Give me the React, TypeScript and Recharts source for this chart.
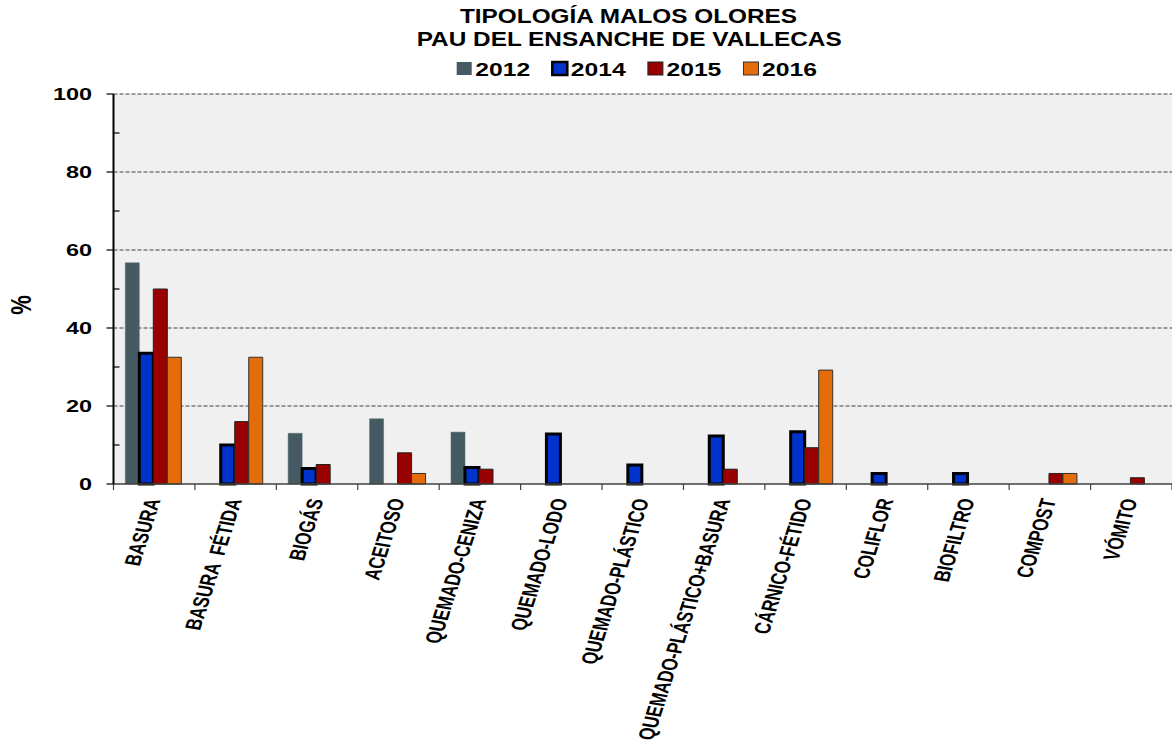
import React from 'react';
import { BarChart, Bar, XAxis, YAxis, CartesianGrid } from 'recharts';

const categories = [
  'BASURA',
  'BASURA  FÉTIDA',
  'BIOGÁS',
  'ACEITOSO',
  'QUEMADO-CENIZA',
  'QUEMADO-LODO',
  'QUEMADO-PLÁSTICO',
  'QUEMADO-PLÁSTICO+BASURA',
  'CÁRNICO-FÉTIDO',
  'COLIFLOR',
  'BIOFILTRO',
  'COMPOST',
  'VÓMITO',
];
const s2012 = [56.7, null, 13.0, 16.7, 13.3, null, null, null, null, null, null, null, null];
const s2014 = [33.5, 10.0, 4.0, null, 4.2, 12.8, 4.9, 12.3, 13.4, 2.7, 2.7, null, null];
const s2015 = [50.0, 16.0, 5.0, 8.0, 3.8, null, null, 3.8, 9.3, null, null, 2.7, 1.6];
const s2016 = [32.5, 32.5, null, 2.7, null, null, null, null, 29.2, null, null, 2.7, null];

const years = ['2012', '2014', '2015', '2016'];
const yTicks = [0, 10, 20, 30, 40, 50, 60, 70, 80, 90, 100];
const gridValues = [20, 40, 60, 80, 100];
const titleLines = ['TIPOLOGÍA MALOS OLORES', 'PAU DEL ENSANCHE DE VALLECAS'];

const seriesStyle: Record<string, { fill: string; stroke: string; strokeWidth: number }> = {
  '2012': { fill: '#455A62', stroke: '#55666c', strokeWidth: 0.5 },
  '2014': { fill: '#0033CC', stroke: '#000000', strokeWidth: 3 },
  '2015': { fill: '#990000', stroke: '#222222', strokeWidth: 1 },
  '2016': { fill: '#E46C0A', stroke: '#333333', strokeWidth: 1 },
};

const data = categories.map((name, i) => ({
  name,
  y2012: s2012[i],
  y2014: s2014[i],
  y2015: s2015[i],
  y2016: s2016[i],
}));

const FONT = 'Liberation Sans, Arial, Helvetica, sans-serif';

function XTick(props: any) {
  const { x, y, payload, index } = props;
  const half = payload && payload.offset ? payload.offset : 40.7;
  return (
    <g>
      <line x1={x - half} x2={x - half} y1={y} y2={y + 6} stroke="#404040" strokeWidth={1.2} />
      {index === categories.length - 1 ? (
        <line x1={x + half} x2={x + half} y1={y} y2={y + 6} stroke="#404040" strokeWidth={1.2} />
      ) : null}
      <text
        transform={`translate(${x + 6.5},${y + 16}) scale(1.4,1) rotate(-77)`}
        textAnchor="end"
        fontSize={16}
        fontWeight="bold"
        fontFamily={FONT}
        fill="#000"
        style={{ whiteSpace: 'pre' }}
      >
        {payload.value}
      </text>
    </g>
  );
}

function YTick(props: any) {
  const { x, y, payload } = props;
  const major = payload.value % 20 === 0;
  return (
    <g>
      {major ? (
        <line x1={x - 7} x2={x} y1={y} y2={y} stroke="#000" strokeWidth={1.2} />
      ) : (
        <line x1={x} x2={x + 6} y1={y} y2={y} stroke="#000" strokeWidth={1.2} />
      )}
      {major ? (
        <text
          transform={`translate(${x - 21.5},${y + 6}) scale(1.42,1)`}
          textAnchor="end"
          fontSize={16.5}
          fontWeight="bold"
          fontFamily={FONT}
          fill="#000"
        >
          {payload.value}
        </text>
      ) : null}
    </g>
  );
}

export default function App() {
  const legendStart = 456.7;
  const legendStep = 95.6;
  return (
    <div style={{ position: 'absolute', left: 0, top: 0, width: 1172, height: 746, background: '#fff' }}>
      <BarChart
        width={1172}
        height={746}
        data={data}
        margin={{ top: 94, right: 0, bottom: 0, left: 0 }}
        barCategoryGap="14.5%"
        barGap={0}
      >
        <CartesianGrid
          vertical={false}
          horizontalValues={gridValues}
          fill="#F0F0F0"
          fillOpacity={1}
          stroke="#404040"
          strokeDasharray="4 2"
        />
        <XAxis
          dataKey="name"
          height={262}
          interval={0}
          tickLine={false}
          tickSize={0}
          tickMargin={0}
          axisLine={{ stroke: '#404040', strokeWidth: 1.5 }}
          tick={(p: any) => <XTick {...p} />}
        />
        <YAxis
          width={113.5}
          domain={[0, 100]}
          ticks={yTicks}
          interval={0}
          tickLine={false}
          tickSize={0}
          tickMargin={0}
          axisLine={{ stroke: '#000', strokeWidth: 2 }}
          tick={(p: any) => <YTick {...p} />}
        />
        {years.map((yr) => (
          <Bar
            key={yr}
            dataKey={`y${yr}`}
            name={yr}
            fill={seriesStyle[yr].fill}
            stroke={seriesStyle[yr].stroke}
            strokeWidth={seriesStyle[yr].strokeWidth}
            isAnimationActive={false}
          />
        ))}
      </BarChart>
      <svg
        width={1172}
        height={746}
        style={{ position: 'absolute', left: 0, top: 0, pointerEvents: 'none' }}
      >
        <text x={460} y={23.3} textLength={337} lengthAdjust="spacingAndGlyphs" fontSize={20} fontWeight="bold" fontFamily={FONT} fill="#000">
          {titleLines[0]}
        </text>
        <text x={416.7} y={46} textLength={425} lengthAdjust="spacingAndGlyphs" fontSize={20} fontWeight="bold" fontFamily={FONT} fill="#000">
          {titleLines[1]}
        </text>
        {years.map((yr, i) => {
          const sx = legendStart + i * legendStep;
          const st = seriesStyle[yr];
          return (
            <g key={yr}>
              <rect
                x={sx}
                y={62}
                width={15}
                height={13}
                fill={st.fill}
                stroke={yr === '2012' ? 'none' : st.stroke}
                strokeWidth={yr === '2014' ? 2.5 : 1}
              />
              <text x={sx + 18.5} y={75.5} textLength={55} lengthAdjust="spacingAndGlyphs" fontSize={19} fontWeight="bold" fontFamily={FONT} fill="#000">
                {yr}
              </text>
            </g>
          );
        })}
        <text
          transform="translate(31,305) scale(1.3,1) rotate(-90)"
          textAnchor="middle"
          fontSize={22}
          fontWeight="bold"
          fontFamily={FONT}
          fill="#000"
        >
          %
        </text>
      </svg>
    </div>
  );
}
